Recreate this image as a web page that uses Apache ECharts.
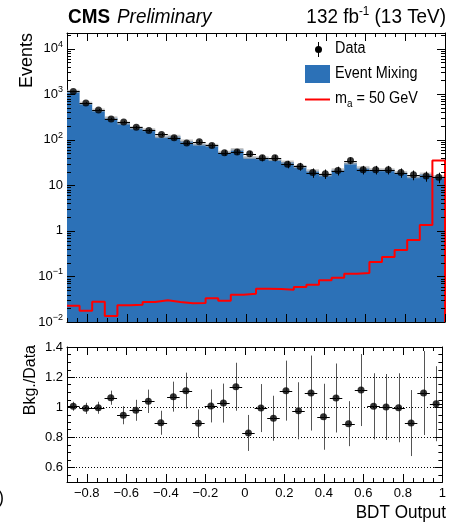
<!DOCTYPE html>
<html>
<head>
<meta charset="utf-8">
<title>BDT Output</title>
<script src="https://cdn.jsdelivr.net/npm/echarts@6.0.0/dist/echarts.min.js"></script>
<style>
html,body{margin:0;padding:0;background:#fff;}
#chart{width:449px;height:523px;}
</style>
</head>
<body>
<div id="chart"></div>
<script>
// ---- binning of the BDT output ----
const xMin = -0.9;
const xMax = 1.0;
const nBins = 30;

// ---- per-bin contents ----
const dataCounts  = [1150, 641, 450, 285, 245, 187, 160, 131, 111, 85, 90, 75, 52, 54, 49, 40, 40, 29, 26, 19, 18, 21, 35, 22, 22, 22, 19, 17, 16, 15];
const dataErrors  = [34, 25, 21, 17, 16, 14, 13, 11, 11, 9.2, 9.5, 8.7, 7.2, 7.3, 7, 6.3, 6.3, 5.4, 5.1, 4.4, 4.2, 4.6, 5.9, 4.7, 4.7, 4.7, 4.4, 4.1, 4, 3.9];
const bkgMixing   = [1156, 635, 448, 303, 232, 183, 166, 117, 119, 94, 80, 75.5, 53, 61, 41, 40, 37, 32.4, 25.7, 20.9, 17, 22, 30.7, 24.4, 22, 21.9, 19, 15.4, 17.7, 15.4];
const signalMa50  = [0.0228, 0.0177, 0.0279, 0.0136, 0.0233, 0.024, 0.0275, 0.030, 0.0275, 0.0258, 0.026, 0.0332, 0.0294, 0.0398, 0.0415, 0.054, 0.053, 0.0513, 0.0588, 0.066, 0.0825, 0.094, 0.115, 0.119, 0.208, 0.268, 0.382, 0.634, 1.35, 35.1];
const ratioBkgData = [1.005, 0.991, 0.995, 1.062, 0.945, 0.978, 1.038, 0.895, 1.069, 1.109, 0.891, 1.007, 1.026, 1.135, 0.827, 0.993, 0.925, 1.109, 0.975, 1.093, 0.935, 1.06, 0.889, 1.113, 1.005, 1.0, 0.995, 0.893, 1.093, 1.022];
const ratioErrors = [0.03, 0.037, 0.04, 0.047, 0.06, 0.07, 0.078, 0.08, 0.1, 0.12, 0.093, 0.11, 0.13, 0.16, 0.12, 0.16, 0.15, 0.2, 0.19, 0.25, 0.22, 0.23, 0.15, 0.24, 0.22, 0.22, 0.23, 0.22, 0.28, 0.25];
const bkgBandFraction = 0.08;

// ---- axis ranges and tick labels ----
const yMinUp = 0.01, yMaxUp = 22000;
const rMin = 0.5, rMax = 1.4;
const xTickValues = [-0.8, -0.6, -0.4, -0.2, 0, 0.2, 0.4, 0.6, 0.8, 1];
const xTickLabels = ['\u22120.8', '\u22120.6', '\u22120.4', '\u22120.2', '0', '0.2', '0.4', '0.6', '0.8', '1'];
const logTickValues = [0.01, 0.1, 1, 10, 100, 1000, 10000];
const logTickLabels = ['{b|10}{e|\u22122}', '{b|10}{e|\u22121}', '1', '10', '{b|10}{e|2}', '{b|10}{e|3}', '{b|10}{e|4}'];
const ratioTickValues = [0.6, 0.8, 1, 1.2, 1.4];
const ratioTickLabels = ['0.6', '0.8', '1', '1.2', '1.4'];
const ratioGridValues = [0.6, 0.8, 1.0, 1.2];

// ---- styling ----
const FONT = "'Liberation Sans', Arial, sans-serif";
const NARROW = 0.9;
const BLUE = '#2c71b7';
const RED = '#ff0000';

const binW = (xMax - xMin) / nBins;
const binLo = i => xMin + i * binW;
const binCenter = i => xMin + (i + 0.5) * binW;

// minor tick positions
const xMinorTicks = [];
for (let k = -18; k <= 20; k++) xMinorTicks.push(k * 0.05);
const logMinorTicks = [];
for (let e = -2; e <= 4; e++) for (let m = 2; m <= 9; m++) { const v = m * Math.pow(10, e); if (v < yMaxUp) logMinorTicks.push(v); }
const ratioMinorTicks = [];
for (let k = 10; k <= 28; k++) ratioMinorTicks.push(k * 0.05);

function pickLabel(values, labels, v, isLog) {
  for (let i = 0; i < values.length; i++) {
    const d = isLog ? Math.abs(Math.log10(v) - Math.log10(values[i])) : Math.abs(v - values[i]);
    if (d < 1e-6) return labels[i];
  }
  return '';
}

const crisp = v => Math.round(v) + 0.5;

// frame ticks for one pad, drawn inward on all four sides
function tickSeries(xIdx, yIdx, yLo, yHi, xMaj, xMinr, yMaj, yMinr, lx, ly) {
  return {
    type: 'custom', xAxisIndex: xIdx, yAxisIndex: yIdx, z: 10, silent: true, clip: false,
    data: [[0, 1]],
    renderItem: function (params, api) {
      const ch = [];
      const seg = (x1, y1, x2, y2) => ch.push({ type: 'line', shape: { x1: x1, y1: y1, x2: x2, y2: y2 }, style: { stroke: '#000', lineWidth: 1 } });
      const xt = (v, L) => {
        const b = api.coord([v, yLo]), t = api.coord([v, yHi]);
        const x = crisp(b[0]);
        seg(x, b[1], x, b[1] - L); seg(x, t[1], x, t[1] + L);
      };
      const yt = (v, L) => {
        const l = api.coord([xMin, v]), r = api.coord([xMax, v]);
        const y = crisp(l[1]);
        seg(l[0], y, l[0] + L, y); seg(r[0], y, r[0] - L, y);
      };
      xMinr.forEach(v => xt(v, lx[1]));
      xMaj.forEach(v => xt(v, lx[0]));
      yMinr.forEach(v => yt(v, ly[1]));
      yMaj.forEach(v => yt(v, ly[0]));
      return { type: 'group', children: ch };
    }
  };
}

// error bars: horizontal bin width and vertical uncertainty
function errorSeries(xIdx, yIdx, vals, errs, vColor) {
  return {
    type: 'custom', xAxisIndex: xIdx, yAxisIndex: yIdx, z: 6, silent: true,
    data: vals.map((v, i) => [binLo(i), binLo(i) + binW, v, errs[i]]),
    encode: { x: [0, 1], y: 2 },
    renderItem: function (params, api) {
      const a = api.value(0), b = api.value(1), v = api.value(2), e = api.value(3);
      const c = (a + b) / 2;
      const pl = api.coord([a, v]), pr = api.coord([b, v]);
      const pt = api.coord([c, v + e]), pb = api.coord([c, v - e]);
      const y = crisp(pl[1]), x = crisp(pt[0]);
      return { type: 'group', children: [
        { type: 'line', shape: { x1: pl[0], y1: y, x2: pr[0], y2: y }, style: { stroke: '#000', lineWidth: 1 } },
        { type: 'line', shape: { x1: x, y1: pt[1], x2: x, y2: pb[1] }, style: { stroke: vColor, lineWidth: 1 } }
      ] };
    }
  };
}

// step outline of the signal histogram (left edge sits on the frame, right edge drops to the floor)
const signalSteps = [];
signalMa50.forEach((v, i) => signalSteps.push([binLo(i), v]));
signalSteps.push([xMax, signalMa50[nBins - 1]]);
signalSteps.push([xMax, yMinUp]);

const axisLineStyle = { show: true, onZero: false, lineStyle: { color: '#000', width: 1 } };
const hiddenBits = { axisTick: { show: false }, splitLine: { show: false } };

function label(x, y, text, font, align, extra) {
  return Object.assign({ type: 'text', x: x, y: y, scaleX: NARROW,
    style: { text: text, fill: '#000', font: font, align: align, verticalAlign: 'middle' } }, extra || {});
}

const option = {
  animation: false,
  backgroundColor: '#fff',
  grid: [
    { left: 67, top: 33, width: 378, height: 289 },
    { left: 67, top: 347, width: 378, height: 135 }
  ],
  xAxis: [
    Object.assign({ gridIndex: 0, type: 'value', min: xMin, max: xMax, position: 'bottom', axisLine: axisLineStyle, axisLabel: { show: false } }, hiddenBits),
    Object.assign({ gridIndex: 0, type: 'value', min: xMin, max: xMax, position: 'top', axisLine: axisLineStyle, axisLabel: { show: false } }, hiddenBits),
    Object.assign({ gridIndex: 1, type: 'value', min: xMin, max: xMax, interval: 0.1, position: 'bottom', axisLine: axisLineStyle,
      axisLabel: { show: true, margin: 5, color: '#000', fontFamily: FONT, fontSize: 13, showMinLabel: false,
        formatter: v => pickLabel(xTickValues, xTickLabels, v, false) } }, hiddenBits),
    Object.assign({ gridIndex: 1, type: 'value', min: xMin, max: xMax, position: 'top', axisLine: axisLineStyle, axisLabel: { show: false } }, hiddenBits)
  ],
  yAxis: [
    Object.assign({ gridIndex: 0, type: 'log', logBase: 10, min: yMinUp, max: yMaxUp, position: 'left', axisLine: axisLineStyle,
      axisLabel: { show: true, margin: 4, color: '#000', fontFamily: FONT, fontSize: 13, showMaxLabel: false,
        formatter: v => pickLabel(logTickValues, logTickLabels, v, true),
        rich: { b: { fontFamily: FONT, fontSize: 13, lineHeight: 18, color: '#000' },
                e: { fontFamily: FONT, fontSize: 9, lineHeight: 6, verticalAlign: 'top', color: '#000' } } } }, hiddenBits),
    Object.assign({ gridIndex: 0, type: 'log', logBase: 10, min: yMinUp, max: yMaxUp, position: 'right', axisLine: axisLineStyle, axisLabel: { show: false } }, hiddenBits),
    Object.assign({ gridIndex: 1, type: 'value', min: rMin, max: rMax, interval: 0.1, position: 'left', axisLine: axisLineStyle,
      axisLabel: { show: true, margin: 4, color: '#000', fontFamily: FONT, fontSize: 13, showMaxLabel: true,
        formatter: v => pickLabel(ratioTickValues, ratioTickLabels, v, false) } }, hiddenBits),
    Object.assign({ gridIndex: 1, type: 'value', min: rMin, max: rMax, position: 'right', axisLine: axisLineStyle, axisLabel: { show: false } }, hiddenBits)
  ],
  series: [
    {
      // background histogram as one filled step polygon plus its uncertainty band
      name: 'Event Mixing', type: 'custom', xAxisIndex: 0, yAxisIndex: 0, z: 1, silent: true,
      data: [[xMin, yMinUp]],
      renderItem: function (params, api) {
        const pts = [api.coord([xMin, yMinUp])];
        const band = [];
        bkgMixing.forEach((v, i) => {
          const a = binLo(i), b = binLo(i) + binW;
          pts.push(api.coord([a, v]), api.coord([b, v]));
          const q1 = api.coord([a, v * (1 + bkgBandFraction)]), q2 = api.coord([b, v / (1 + bkgBandFraction)]);
          band.push({ type: 'rect', shape: { x: q1[0], y: q1[1], width: q2[0] - q1[0], height: q2[1] - q1[1] },
                      style: { fill: 'rgba(180,180,180,0.7)' } });
        });
        pts.push(api.coord([xMax, yMinUp]));
        return { type: 'group', children: [
          { type: 'polygon', shape: { points: pts }, style: { fill: BLUE } }
        ].concat(band) };
      }
    },
    {
      name: 'm_a = 50 GeV', type: 'line', xAxisIndex: 0, yAxisIndex: 0, z: 3, silent: true, clip: false,
      step: 'end', showSymbol: false, symbol: 'none',
      data: signalSteps,
      lineStyle: { color: RED, width: 2 }
    },
    tickSeries(0, 0, yMinUp, yMaxUp, xTickValues, xMinorTicks, logTickValues, logMinorTicks, [8, 4], [8, 4]),
    errorSeries(0, 0, dataCounts, dataErrors, '#000'),
    {
      name: 'Data', type: 'scatter', xAxisIndex: 0, yAxisIndex: 0, z: 7, silent: true,
      symbol: 'circle', symbolSize: 7,
      data: dataCounts.map((v, i) => [binCenter(i), v]),
      itemStyle: { color: '#000' }
    },
    errorSeries(2, 2, ratioBkgData, ratioErrors, '#555'),
    {
      name: 'Bkg./Data', type: 'scatter', xAxisIndex: 2, yAxisIndex: 2, z: 7, silent: true,
      symbol: 'circle', symbolSize: 7,
      data: ratioBkgData.map((v, i) => [binCenter(i), v]),
      itemStyle: { color: '#000' },
      markLine: {
        silent: true, symbol: ['none', 'none'], label: { show: false }, z: 2,
        lineStyle: { color: '#000', width: 1, type: [1, 2] },
        data: ratioGridValues.map(v => ({ yAxis: v }))
      }
    },
    tickSeries(2, 2, rMin, rMax, xTickValues, xMinorTicks, ratioTickValues, ratioMinorTicks, [8, 4], [8, 4])
  ],
  graphic: [
    label(68, 17, 'CMS', 'bold 21px ' + FONT, 'left'),
    label(117, 17, 'Preliminary', 'italic 21px ' + FONT, 'left'),
    { type: 'text', x: 446, y: 17, scaleX: NARROW, style: { text: '{n|132 fb}{s|-1}{n| (13 TeV)}', align: 'right', verticalAlign: 'middle',
        rich: { n: { fontFamily: FONT, fontSize: 21, lineHeight: 24, color: '#000' },
                s: { fontFamily: FONT, fontSize: 13, lineHeight: 8, verticalAlign: 'top', color: '#000' } } } },
    { type: 'text', x: 27, y: 33, rotation: Math.PI / 2, style: { text: 'Events', fill: '#000', font: '18px ' + FONT, align: 'right', verticalAlign: 'middle' } },
    { type: 'text', x: 31, y: 345, rotation: Math.PI / 2, style: { text: 'Bkg./Data', fill: '#000', font: '16px ' + FONT, align: 'right', verticalAlign: 'middle' } },
    label(446, 513, 'BDT Output', '19px ' + FONT, 'right'),
    label(4, 498, '0)', '19px ' + FONT, 'right'),
    // legend
    { type: 'line', shape: { x1: 318.5, y1: 42, x2: 318.5, y2: 57 }, style: { stroke: '#000', lineWidth: 1 } },
    { type: 'circle', shape: { cx: 318.5, cy: 49.5, r: 3.5 }, style: { fill: '#000' } },
    label(335, 49, 'Data', '16px ' + FONT, 'left'),
    { type: 'rect', shape: { x: 305, y: 65, width: 25, height: 18 }, style: { fill: BLUE } },
    label(335, 74, 'Event Mixing', '16px ' + FONT, 'left'),
    { type: 'line', shape: { x1: 305, y1: 99.5, x2: 330, y2: 99.5 }, style: { stroke: RED, lineWidth: 2 } },
    { type: 'text', x: 335, y: 99, scaleX: NARROW, style: { text: '{n|m}{a|a}{n| = 50 GeV}', align: 'left', verticalAlign: 'middle',
        rich: { n: { fontFamily: FONT, fontSize: 16, lineHeight: 20, color: '#000' },
                a: { fontFamily: FONT, fontSize: 11, lineHeight: 12, verticalAlign: 'bottom', color: '#000' } } } }
  ]
};

const chart = echarts.init(document.getElementById('chart'), null, { renderer: 'canvas' });
chart.setOption(option);
</script>
</body>
</html>
